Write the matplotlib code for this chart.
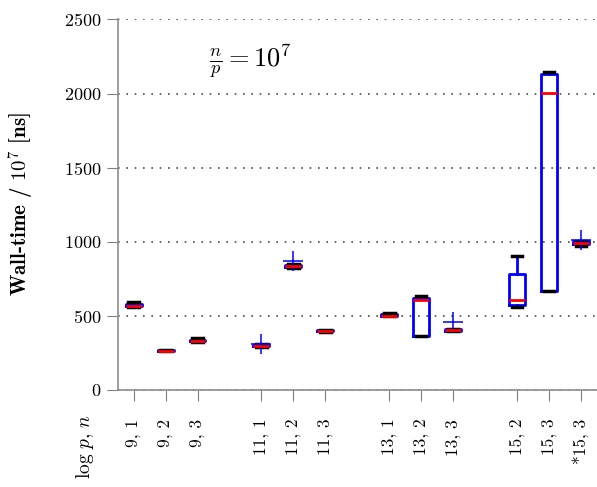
import matplotlib
matplotlib.use("Agg")
import matplotlib.pyplot as plt

plt.rcParams["font.family"] = "serif"
plt.rcParams["font.serif"] = ["cmr10"]
plt.rcParams["mathtext.fontset"] = "cm"
plt.rcParams["axes.unicode_minus"] = False
plt.rcParams["axes.formatter.use_mathtext"] = True

# runs: (log p, n) configurations
labels = ["9, 1", "9, 2", "9, 3", "11, 1", "11, 2", "11, 3",
          "13, 1", "13, 2", "13, 3", "15, 2", "15, 3", "*15, 3"]
positions = [1, 2, 3, 5, 6, 7, 9, 10, 11, 13, 14, 15]

# box statistics per run (wall-time / 1e7 in ns)
whislo = [560, 258, 322, 290, 822, 392, 494, 360, 397, 561, 665, 968]
q1 = [563, 260, 325, 292, 826, 394, 496, 362, 399, 572, 668, 982]
med = [568, 262, 328, 295, 832, 397, 500, 608, 402, 605, 2005, 992]
q3 = [580, 267, 336, 301, 840, 401, 510, 618, 406, 782, 2135, 1002]
whishi = [590, 270, 347, 305, 845, 404, 516, 633, 409, 905, 2147, 1006]
fliers = [[], [], [], [305], [872], [], [], [], [455], [], [], [1013]]

stats = []
for i in range(len(labels)):
    stats.append(dict(label=labels[i], med=med[i], q1=q1[i], q3=q3[i],
                      whislo=whislo[i], whishi=whishi[i], fliers=fliers[i]))

fig, ax = plt.subplots(figsize=(5.97, 4.87), dpi=100)
fig.subplots_adjust(left=0.197, right=1.0, bottom=0.2, top=0.96)

ax.bxp(stats, positions=positions, widths=0.5,
       boxprops=dict(color="blue", linewidth=2),
       whiskerprops=dict(color="blue", linewidth=2),
       capprops=dict(color="black", linewidth=2.5),
       medianprops=dict(color="red", linewidth=2),
       flierprops=dict(marker="+", markeredgecolor="blue", markersize=14,
                       markeredgewidth=1.1),
       capwidths=0.33)

ax.set_xlim(0.5, 15.5)
ax.set_ylim(0, 2500)
ax.set_yticks([0, 500, 1000, 1500, 2000, 2500])
ax.set_xticks(positions)
ax.set_xticklabels(labels, rotation=90, fontsize=12.5)
ax.tick_params(axis="y", labelsize=13, length=8, color="0.5")
ax.tick_params(axis="x", length=8, color="0.5", pad=13)

for y in [0, 500, 1000, 1500, 2000, 2500]:
    ax.axhline(y, color="0.3", linestyle=(0, (1, 4)), linewidth=1.2, zorder=0)

for side in ["top", "right"]:
    ax.spines[side].set_visible(False)
for side in ["left", "bottom"]:
    ax.spines[side].set_color("0.55")
    ax.spines[side].set_linewidth(1.2)

ax.set_ylabel("Wall-time / $10^7$ [ns]", fontsize=15, fontfamily="cmb10")
ax.yaxis.set_label_coords(-0.168, 0.5)
ax.text(-0.046, -0.065, r"$\log\,p,\,n$", transform=ax.transAxes,
        rotation=90, ha="right", va="top", fontsize=14)
ax.text(4.65, 2220, r"$\frac{n}{p} = 10^7$", fontsize=19, ha="center", va="center")

fig.savefig("out.png", dpi=100)
